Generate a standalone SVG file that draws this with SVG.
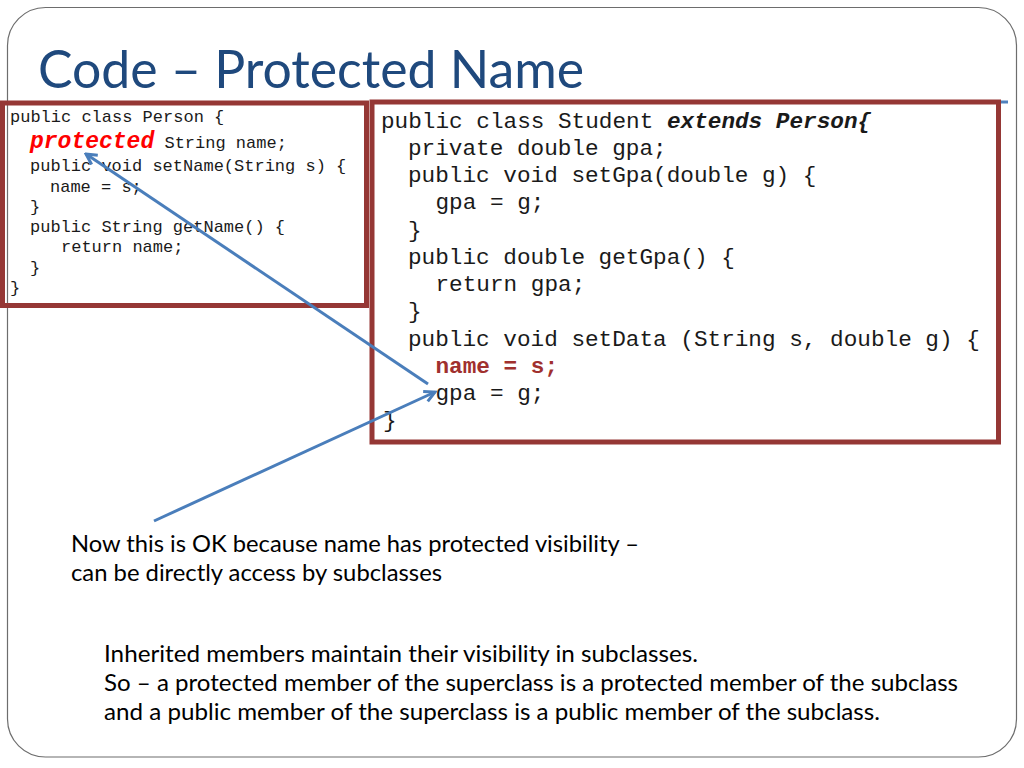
<svg xmlns="http://www.w3.org/2000/svg" width="1024" height="768" viewBox="0 0 1024 768">
  <style>
    .frame { fill: none; stroke: #6d6d6d; stroke-width: 1.2; }
    .box { fill: none; stroke: #953735; stroke-width: 5; }
    .title { font-family: Lato, "Open Sans", "Liberation Sans", sans-serif; font-size: 52px; fill: #1F497D; }
    .body { font-family: Lato, "Open Sans", "Liberation Sans", sans-serif; font-size: 23px; fill: #000; }
    .code { font-family: "Liberation Mono", "Courier New", monospace; fill: #1a1a1a; }
    .cs { font-size: 17px; }
    .cl { font-size: 22.7px; }
    .kw { font-weight: bold; font-style: italic; }
    .prot { font-size: 23px; font-weight: bold; font-style: italic; fill: #FF0000; }
    .hl { font-weight: bold; fill: #A0302E; }
    .conn { fill: none; stroke: #4A7EBB; stroke-width: 3; }
  </style>
  <defs>
    <marker id="arrow" viewBox="0 0 14 14" refX="12" refY="7" markerWidth="14" markerHeight="14" orient="auto" markerUnits="userSpaceOnUse">
      <path d="M1.5,1.5 L12,7 L1.5,12.5" fill="none" stroke="#4A7EBB" stroke-width="3"/>
    </marker>
  </defs>

  <rect width="1024" height="768" fill="#ffffff"/>
  <rect class="frame" x="7.5" y="7.5" width="1009" height="749.5" rx="38" ry="38"/>
  <line x1="999" y1="102" x2="1008" y2="102" stroke="#4F81BD" stroke-width="3"/>

  <g id="title">
    <text class="title" x="38" y="88" textLength="546" lengthAdjust="spacingAndGlyphs">Code – Protected Name</text>
  </g>

  <g id="person-box">
    <rect class="box" x="2.5" y="103" width="364" height="202.5"/>
    <text class="code cs" x="10" y="122">public class Person {</text>
    <text class="code cs" x="30" y="148"><tspan class="prot">protected</tspan> String name;</text>
    <text class="code cs" x="30" y="171">public void setName(String s) {</text>
    <text class="code cs" x="50" y="191.5">name = s;</text>
    <text class="code cs" x="30" y="211.5">}</text>
    <text class="code cs" x="30" y="232">public String getName() {</text>
    <text class="code cs" x="61" y="252">return name;</text>
    <text class="code cs" x="30" y="272.5">}</text>
    <text class="code cs" x="10" y="293">}</text>
  </g>

  <g id="student-box">
    <rect class="box" x="372" y="102" width="626.5" height="340"/>
    <text class="code cl" x="381" y="127.5">public class Student <tspan class="kw">extends Person{</tspan></text>
    <text class="code cl" x="408" y="154.75">private double gpa;</text>
    <text class="code cl" x="408" y="182">public void setGpa(double g) {</text>
    <text class="code cl" x="435.5" y="209.25">gpa = g;</text>
    <text class="code cl" x="408" y="236.5">}</text>
    <text class="code cl" x="408" y="263.75">public double getGpa() {</text>
    <text class="code cl" x="435.5" y="291">return gpa;</text>
    <text class="code cl" x="408" y="318.25">}</text>
    <text class="code cl" x="408" y="345.5">public void setData (String s, double g) {</text>
    <text class="code cl hl" x="435.5" y="372.75">name = s;</text>
    <text class="code cl" x="435.5" y="400">gpa = g;</text>
    <text class="code cl" x="383" y="427.25">}</text>
  </g>

  <g id="note">
    <text class="body" x="71" y="552" textLength="568" lengthAdjust="spacingAndGlyphs">Now this is OK because name has protected visibility –</text>
    <text class="body" x="71" y="581" textLength="371" lengthAdjust="spacingAndGlyphs">can be directly access by subclasses</text>
  </g>

  <g id="summary">
    <text class="body" x="104" y="662" textLength="594" lengthAdjust="spacingAndGlyphs">Inherited members maintain their visibility in subclasses.</text>
    <text class="body" x="104" y="691" textLength="854" lengthAdjust="spacingAndGlyphs">So – a protected member of the superclass is a protected member of the subclass</text>
    <text class="body" x="104" y="720" textLength="776" lengthAdjust="spacingAndGlyphs">and a public member of the superclass is a public member of the subclass.</text>
  </g>

  <g id="connectors">
    <line class="conn" x1="428" y1="384" x2="86" y2="154" marker-end="url(#arrow)"/>
    <line class="conn" x1="154" y1="521" x2="435" y2="392" marker-end="url(#arrow)"/>
  </g>
</svg>
